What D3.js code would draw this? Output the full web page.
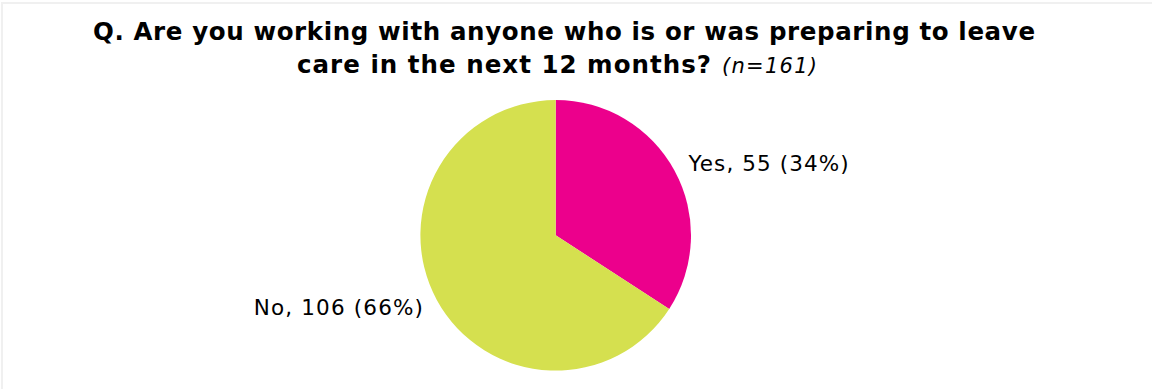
<!DOCTYPE html>
<html>
<head>
<meta charset="utf-8">
<script src="https://cdn.jsdelivr.net/npm/d3@7"></script>
<style>
  html, body { margin: 0; padding: 0; background: #fff; }
  svg { display: block; }
  text { font-family: "DejaVu Sans", Verdana, sans-serif; fill: #000; }
</style>
</head>
<body>
<svg id="chart" width="1152" height="389"></svg>
<script>
// Survey responses
const categories = ["Yes", "No"];
const counts = [55, 106];
const colors = ["#ec008c", "#d5e04f"];
const titleLine1 = "Q. Are you working with anyone who is or was preparing to leave";
const titleLine2 = "care in the next 12 months?";
const sampleNote = "(n=161)";

const svg = d3.select("#chart");
const W = 1152, H = 389;

// light frame around the chart area
svg.append("rect")
  .attr("x", 2).attr("y", 3)
  .attr("width", W + 10).attr("height", H + 10)
  .attr("fill", "none")
  .attr("stroke", "#f0f0f0")
  .attr("stroke-width", 2);

// title (Verdana-width text set in DejaVu, stretched to the wider metrics)
const title = svg.append("g");
title.append("text")
  .attr("x", 93).attr("y", 40)
  .attr("font-size", 24.5).attr("font-weight", "bold")
  .attr("textLength", 942).attr("lengthAdjust", "spacing")
  .text(titleLine1);
title.append("text")
  .attr("x", 297).attr("y", 73)
  .attr("font-size", 24.5).attr("font-weight", "bold")
  .attr("textLength", 414).attr("lengthAdjust", "spacing")
  .text(titleLine2);
title.append("text")
  .attr("x", 722).attr("y", 73)
  .attr("font-size", 21).attr("font-style", "italic")
  .attr("textLength", 95).attr("lengthAdjust", "spacing")
  .text(sampleNote);

// pie
const cx = 555.7, cy = 235.3, radius = 135.3;
const total = d3.sum(counts);
const data = categories.map((c, i) => ({ category: c, value: counts[i], color: colors[i] }));

const pie = d3.pie().value(d => d.value).sort(null);
const arc = d3.arc().innerRadius(0).outerRadius(radius);
const labelArc = d3.arc().innerRadius(151).outerRadius(151);

const g = svg.append("g").attr("transform", `translate(${cx},${cy})`);
const arcs = pie(data);

g.selectAll("path.slice")
  .data(arcs)
  .join("path")
  .attr("class", "slice")
  .attr("d", arc)
  .attr("fill", d => d.data.color);

const labelText = d => `${d.data.category}, ${d.data.value} (${Math.round(d.data.value / total * 100)}%)`;
const isRight = d => (d.startAngle + d.endAngle) / 2 < Math.PI;

g.selectAll("text.label")
  .data(arcs)
  .join("text")
  .attr("class", "label")
  .attr("dominant-baseline", "central")
  .attr("font-size", 21.5)
  .text(labelText)
  .each(function (d) {
    // widen to Verdana-like spacing, then place by the arc centroid
    const w = this.getComputedTextLength() * 1.09;
    const [x, y] = labelArc.centroid(d);
    d3.select(this)
      .attr("textLength", w)
      .attr("lengthAdjust", "spacing")
      .attr("transform", `translate(${isRight(d) ? x : x - w},${y})`);
  });
</script>
</body>
</html>
